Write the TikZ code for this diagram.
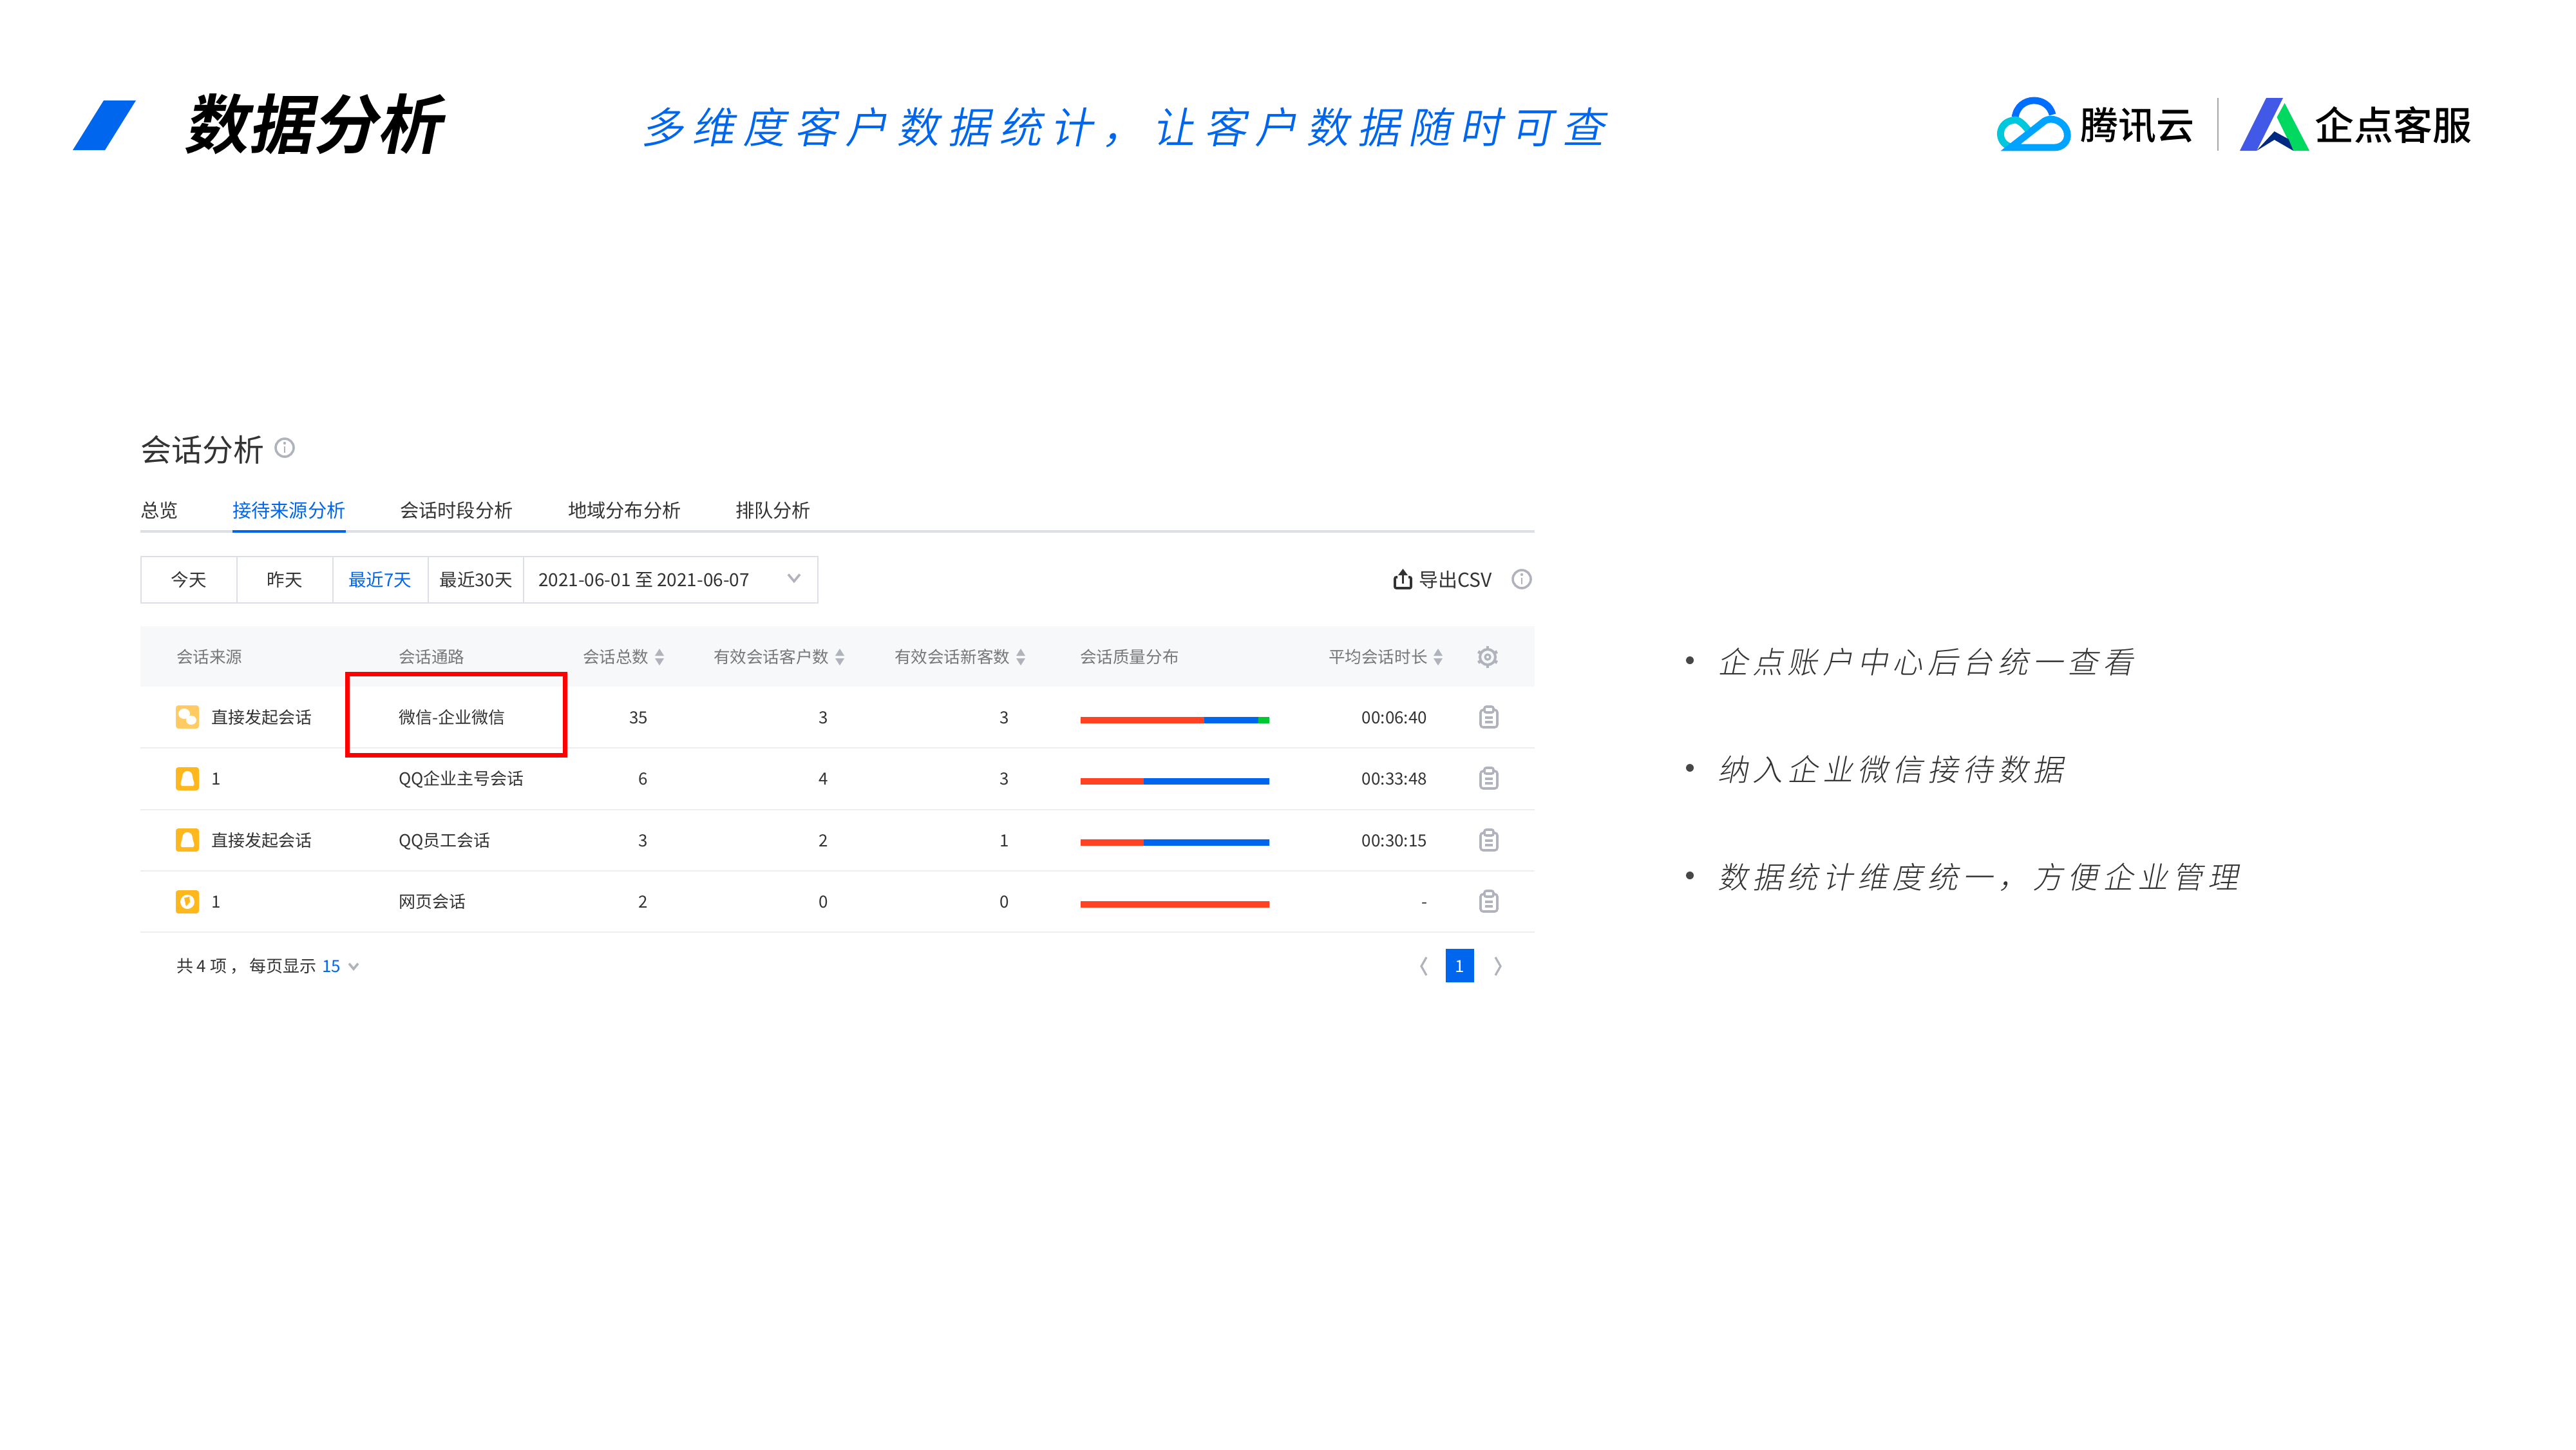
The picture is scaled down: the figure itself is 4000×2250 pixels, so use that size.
\documentclass[tikz,border=0pt]{standalone}
\usepackage{fontspec}
\setmainfont{Noto Sans CJK SC}
\newfontfamily\cjkb[FakeSlant=0.2]{Noto Sans CJK SC Bold}
\newfontfamily\cjkm{Noto Sans CJK SC Medium}
\newfontfamily\cjkr{Noto Sans CJK SC}
\newfontfamily\cjksub[FakeSlant=0.2,LetterSpace=20.4]{Noto Sans CJK SC DemiLight}
\newfontfamily\cjkbul[FakeSlant=0.2,LetterSpace=15.7]{Noto Sans CJK SC Light}
\newcommand\pxs[1]{\fontsize{\fpeval{#1*0.25}}{\fpeval{#1*0.3}}\selectfont}
\definecolor{brand}{HTML}{0066EE}
\definecolor{ink}{HTML}{333333}
\definecolor{headgray}{HTML}{777777}
\definecolor{icongray}{HTML}{B0B3BB}
\definecolor{linegray}{HTML}{DCDFE6}
\definecolor{rowline}{HTML}{ECEEF2}
\definecolor{headbg}{HTML}{F7F8FA}
\definecolor{qqyellow}{HTML}{FFB71E}
\definecolor{wxyellow}{HTML}{FFCB62}
\definecolor{barred}{HTML}{FF4222}
\definecolor{bargreen}{HTML}{00C832}
\definecolor{cloudtop}{HTML}{006EFF}
\definecolor{cloudleft}{HTML}{00C8DC}
\definecolor{cloudright}{HTML}{00A3FF}
\definecolor{qdblue}{HTML}{4258E6}
\definecolor{qdgreen}{HTML}{00D860}
\definecolor{qdnavy}{HTML}{002A82}
\tikzset{
  x=0.25pt,y=-0.25pt,
  fs/.style={font=\pxs{#1},text height={#1*0.19pt},text depth=0pt,inner sep=0pt,outer sep=0pt},
  cell/.style={fs=26,text=ink},
  headcell/.style={fs=25.6,text=headgray},
  tabcell/.style={fs=29.3,text=ink},
  btncell/.style={fs=27.5,text=ink},
  icon/.style={draw=icongray,line width=.9pt,fill=none},
  rowrule/.style={draw=rowline,line width=.6pt},
}
\newcommand\sortmark[2]{%
  \fill[icongray] (#1-7,#2-2)--(#1+7,#2-2)--(#1,#2-13)--cycle;
  \fill[icongray] (#1-7,#2+2)--(#1+7,#2+2)--(#1,#2+13)--cycle;}
\newcommand\infomark[2]{%
  \draw[icongray,line width=.9pt] (#1,#2) circle[radius=14];
  \draw[icongray,line width=.7pt] (#1,#2-2)--(#1,#2+8);
  \fill[icongray] (#1,#2-7) circle[radius=2.2];}
\newcommand\clipmark[2]{%
  \draw[icon,rounded corners=1pt] (#1-13,#2-11) rectangle (#1+13,#2+16);
  \draw[icon,rounded corners=.7pt,fill=white] (#1-7,#2-16) rectangle (#1+7,#2-7);
  \draw[icongray,line width=.8pt] (#1-6,#2+1)--(#1+6,#2+1) (#1-6,#2+8)--(#1+6,#2+8);}
\newcommand\chevdown[3]{\draw[icongray,line width=.9pt] (#1-#3,#2-#3*.6)--(#1,#2+#3*.6)--(#1+#3,#2-#3*.6);}
\newcommand\iconbox[3]{\fill[#3,rounded corners=1pt] (#1-18,#2-18) rectangle (#1+18,#2+18);}
\newcommand\qqmark[2]{%
  \iconbox{#1}{#2}{qqyellow}
  \fill[white] (#1-9,#2+11) .. controls (#1-13,#2+8) and (#1-8,#2+2) .. (#1-8,#2-3)
     .. controls (#1-8,#2-15) and (#1+8,#2-15) .. (#1+8,#2-3)
     .. controls (#1+8,#2+2) and (#1+13,#2+8) .. (#1+9,#2+11) -- cycle;}
\newcommand\barrow[4]{%
  \fill[barred] (1677.5,#1) rectangle (#2,#1+#4);
  \fill[brand] (#2,#1) rectangle (#3,#1+#4);
  \fill[bargreen] (#3,#1) rectangle (1971,#1+#4);}
\begin{document}
\begin{tikzpicture}
\useasboundingbox (0,0) rectangle (4000,2250);
\fill[white] (0,0) rectangle (4000,2250);

% header
\fill[brand] (113,233)--(163,233)--(211,156)--(161,156)--cycle;
\node[fs=100,anchor=west,text=black] (title) at (285,192) {\cjkb 数据分析};
\node[fs=66,anchor=west,text=brand] (subtitle) at (995,197) {\cjksub 多维度客户数据统计，让客户数据随时可查};

% tencent cloud logo
\draw[line width=2.7pt,draw=cloudtop]
  (3129,182) .. controls (3134,148) and (3180,148) .. (3187,178);
\draw[line width=2.7pt,draw=cloudleft]
  (3150,203) .. controls (3138,187) and (3130,184) .. (3124,187)
  .. controls (3100,192) and (3100,226) .. (3127,229);
\draw[line width=2.7pt,draw=cloudright]
  (3122,229) -- (3172,190) .. controls (3185,178) and (3208,190) .. (3210,207)
  .. controls (3212,220) and (3202,229) .. (3190,229) -- cycle;
\node[fs=59,anchor=west,text=black] (brandA) at (3230,194) {\cjkm 腾讯云};
\draw[draw=gray!70,line width=.5pt] (3444,152)--(3444,234);
% qidian logo
\fill[qdblue] (3478,234)--(3504,234)--(3545,152)--(3519,152)--cycle;
\fill[qdgreen] (3547.5,160)--(3535.5,182)--(3561,234)--(3586,234)--cycle;
\fill[qdnavy] (3504,234)--(3531.6,204)--(3553.6,216)--(3561,234)--(3531.6,217)--cycle;
\node[fs=61,anchor=west,text=black] (brandB) at (3594,194) {\cjkm 企点客服};

% panel heading
\node[fs=48,anchor=west,text=ink] (h) at (218,698) {会话分析};
\infomark{442}{695}

% tabs
\node[tabcell,anchor=west] (t1) at (218,792) {总览};
\node[tabcell,anchor=west,text=brand] (t2) at (361,792) {接待来源分析};
\node[tabcell,anchor=west] (t3) at (621,792) {会话时段分析};
\node[tabcell,anchor=west] (t4) at (882,792) {地域分布分析};
\node[tabcell,anchor=west] (t5) at (1142,792) {排队分析};
\draw[linegray,line width=.8pt] (218,825)--(2383,825);
\draw[brand,line width=1pt] (361,825)--(537,825);

% buttons
\draw[linegray,line width=.7pt] (219,864) rectangle (1270,936);
\draw[linegray,line width=.7pt] (368,864)--(368,936) (517,864)--(517,936) (665,864)--(665,936) (813,864)--(813,936);
\node[btncell] (b1) at (293,900) {今天};
\node[btncell] (b2) at (442,900) {昨天};
\node[btncell,text=brand] (b3) at (590,900) {最近7天};
\node[btncell] (b4) at (739,900) {最近30天};
\node[btncell,fs=28,anchor=west] (b5) at (836,900) {2021-06-01 至 2021-06-07};
\chevdown{1233}{897}{9}

% export
\draw[ink,line width=.9pt,rounded corners=.5pt] (2170,896)--(2166,896)--(2166,913)--(2191,913)--(2191,896)--(2187,896);
\draw[ink,line width=.9pt] (2178.5,906)--(2178.5,888);
\fill[ink] (2171,893)--(2178.5,883)--(2186,893)--cycle;
\node[fs=30,anchor=west,text=ink] (csv) at (2203,900) {导出CSV};
\infomark{2363}{899}

% table head
\fill[headbg] (218,972) rectangle (2383,1066);
\node[headcell,anchor=west] (c1) at (274,1020) {会话来源};
\node[headcell,anchor=west] (c2) at (619,1020) {会话通路};
\node[headcell,anchor=west] (c3) at (905,1020) {会话总数};
\sortmark{1024}{1020}
\node[headcell,anchor=west] (c4) at (1108,1020) {有效会话客户数};
\sortmark{1304}{1020}
\node[headcell,anchor=west] (c5) at (1389,1020) {有效会话新客数};
\sortmark{1585}{1020}
\node[headcell,anchor=west] (c6) at (1677,1020) {会话质量分布};
\node[headcell,anchor=west] (c7) at (2063,1020) {平均会话时长};
\sortmark{2233}{1020}
% gear
\draw[icongray,line width=1pt] (2310,1020) circle[radius=12];
\draw[icongray,line width=.8pt] (2310,1020) circle[radius=4];
\foreach \a in {0,60,...,300} \draw[icongray,line width=1.2pt] (2310,1020)++(\a+30:12)--++(\a+30:5);

% rows
\foreach \yy in {1161,1257,1352,1447} \draw[rowrule] (218,\yy)--(2383,\yy);

\iconbox{291}{1113}{wxyellow}
\fill[white] (286,1108) ellipse[x radius=9,y radius=8];
\fill[white] (297,1118) ellipse[x radius=8,y radius=7];
\node[cell,anchor=west] (r1a) at (328,1114) {直接发起会话};
\node[cell,anchor=west] (r1b) at (619,1114) {微信-企业微信};
\node[cell,anchor=east] (r1c) at (1006,1114) {35};
\node[cell,anchor=east] (r1d) at (1286,1114) {3};
\node[cell,anchor=east] (r1e) at (1567,1114) {3};
\node[cell,anchor=east] (r1f) at (2216,1114) {00:06:40};
\clipmark{2312}{1113}

\qqmark{291}{1209}
\node[cell,anchor=west] (r2a) at (328,1209) {1};
\node[cell,anchor=west] (r2b) at (619,1209) {QQ企业主号会话};
\node[cell,anchor=east] (r2c) at (1006,1209) {6};
\node[cell,anchor=east] (r2d) at (1286,1209) {4};
\node[cell,anchor=east] (r2e) at (1567,1209) {3};
\node[cell,anchor=east] (r2f) at (2216,1209) {00:33:48};
\clipmark{2312}{1208}

\qqmark{291}{1304}
\node[cell,anchor=west] (r3a) at (328,1305) {直接发起会话};
\node[cell,anchor=west] (r3b) at (619,1305) {QQ员工会话};
\node[cell,anchor=east] (r3c) at (1006,1305) {3};
\node[cell,anchor=east] (r3d) at (1286,1305) {2};
\node[cell,anchor=east] (r3e) at (1567,1305) {1};
\node[cell,anchor=east] (r3f) at (2216,1305) {00:30:15};
\clipmark{2312}{1304}

\iconbox{291}{1400}{qqyellow}
\fill[white] (291,1400) circle[radius=11];
\fill[qqyellow] (286,1394)--(294,1392)--(295,1400)--(289,1407)--cycle;
\node[cell,anchor=west] (r4a) at (328,1400) {1};
\node[cell,anchor=west] (r4b) at (619,1400) {网页会话};
\node[cell,anchor=east] (r4c) at (1006,1400) {2};
\node[cell,anchor=east] (r4d) at (1286,1400) {0};
\node[cell,anchor=east] (r4e) at (1567,1400) {0};
\node[cell,anchor=east] (r4f) at (2216,1400) {-};
\clipmark{2312}{1399}

% bars
\barrow{1113}{1870}{1954}{10}
\barrow{1208}{1776}{1971}{10}
\barrow{1303}{1776}{1971}{10}
\barrow{1399}{1971}{1971}{10}

% highlight
\draw[red,line width=1.75pt] (539,1046) rectangle (877,1172);

% footer
\node[cell,anchor=west] (f1) at (274,1500) {共 4 项 ，};
\node[cell,anchor=west] (f1b) at (387,1500) {每页显示};
\node[cell,anchor=west,text=brand] (f2) at (500,1500) {15};
\chevdown{549}{1500}{7}
\draw[icongray,line width=.8pt] (2215,1486)--(2207,1500)--(2215,1514);
\fill[brand] (2245,1473) rectangle (2289,1525);
\node[cell,text=white] (pg) at (2267,1500) {1};
\draw[icongray,line width=.8pt] (2322,1486)--(2330,1500)--(2322,1514);

% bullets
\fill[ink!90] (2624,1025) circle[radius=6];
\node[fs=47,anchor=west,text=ink] (p1) at (2667,1028) {\cjkbul 企点账户中心后台统一查看};
\fill[ink!90] (2624,1192) circle[radius=6];
\node[fs=47,anchor=west,text=ink] (p2) at (2667,1195) {\cjkbul 纳入企业微信接待数据};
\fill[ink!90] (2624,1359) circle[radius=6];
\node[fs=47,anchor=west,text=ink] (p3) at (2667,1362) {\cjkbul 数据统计维度统一，方便企业管理};
\end{tikzpicture}
\end{document}
